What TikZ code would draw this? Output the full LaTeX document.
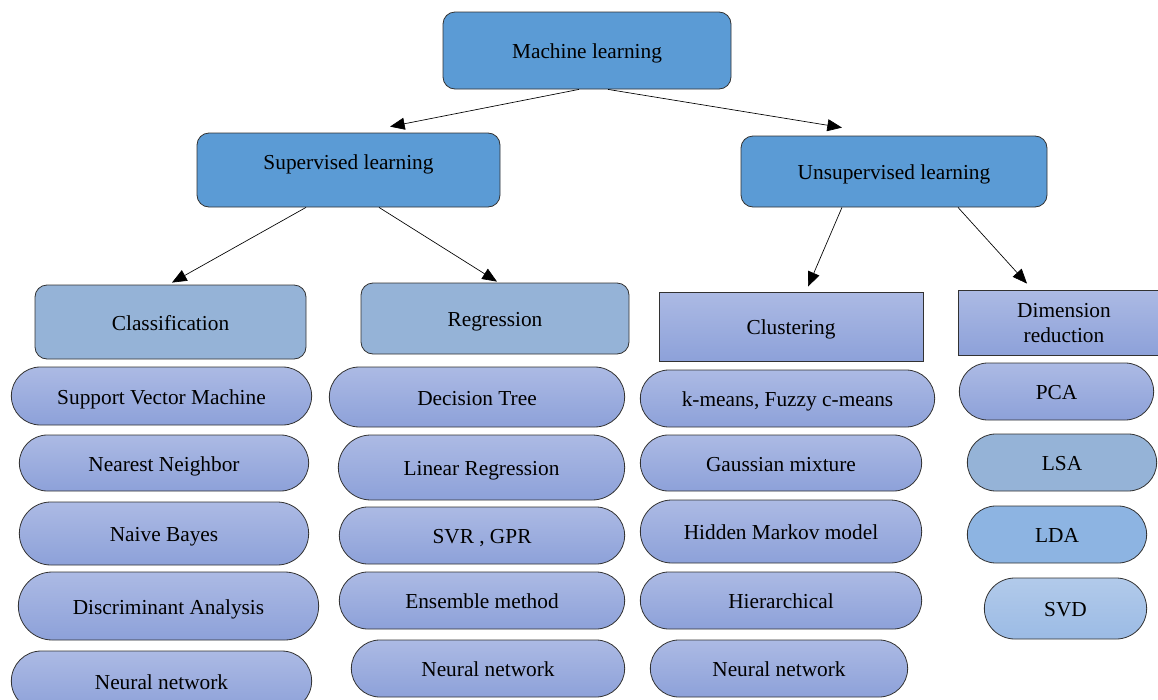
\documentclass[tikz,border=0pt]{standalone}
\usepackage{fontspec}
\setmainfont{Liberation Serif}
\usetikzlibrary{shapes.misc,arrows.meta,calc}
\definecolor{topblue}{RGB}{91,155,213}
\definecolor{midblue}{RGB}{149,179,215}
\definecolor{lavtop}{RGB}{172,186,228}
\definecolor{lavbot}{RGB}{141,161,217}
\definecolor{ldablue}{RGB}{141,180,226}
\definecolor{svdtop}{RGB}{178,202,234}
\definecolor{svdbot}{RGB}{155,187,229}
\definecolor{edge}{RGB}{50,50,50}
\tikzset{
  sz/.style 2 args={minimum width={#1*0.75pt}, minimum height={#2*0.75pt}},
  base/.style={draw=edge, line width=0.6pt, inner sep=1pt, align=center,
    font=\fontsize{16}{19}\selectfont, text height=15.5pt, text depth=3.5pt},
  mainbox/.style={base, rectangle, rounded corners=9pt, fill=topblue},
  catbox/.style={base, rectangle, rounded corners=9pt, fill=midblue},
  gradbox/.style={base, rectangle, top color=lavtop, bottom color=lavbot},
  leaf/.style={base, rounded rectangle, top color=lavtop, bottom color=lavbot},
  arr/.style={line width=0.5pt, -{Triangle[length=11pt,width=9pt]}}
}
\begin{document}
\begin{tikzpicture}[x=0.75pt,y=-0.75pt]
\useasboundingbox (0,0) rectangle (1158,700);
% top levels
\node[mainbox, sz={288}{77}] (ml) at (587,50.5) {Machine learning};
\node[mainbox, sz={303}{74}, text depth=16pt] (sup) at (348.5,170) {Supervised learning};
\node[mainbox, sz={306}{71}] (unsup) at (894,171.5) {Unsupervised learning};
% categories
\node[catbox, sz={271}{74}] (class) at (170.5,322) {Classification};
\node[catbox, sz={268}{71}] (regr) at (495,318.5) {Regression};
\node[gradbox, sz={264}{69}] (clust) at (791,326.5) {Clustering};
\node[gradbox, sz={212}{65}, text height=34pt] (dim) at (1064,322.5) {Dimension\\reduction};
% column 1
\node[leaf, sz={303}{58}] (svm) at (161.5,396) {Support Vector Machine};
\node[leaf, sz={292}{56}] (nn) at (164,463) {Nearest Neighbor};
\node[leaf, sz={292}{63}] (nb) at (164,533.5) {Naive Bayes};
\node[leaf, sz={303}{68}] (da) at (168.5,606) {Discriminant Analysis};
\node[leaf, sz={303}{60}] (neuA) at (161.5,681) {Neural network};
% column 2
\node[leaf, sz={298}{60}] (dt) at (477,397) {Decision Tree};
\node[leaf, sz={289}{65}] (lr) at (481.5,467.5) {Linear Regression};
\node[leaf, sz={288}{57}] (svr) at (482,535.5) {SVR , GPR};
\node[leaf, sz={288}{57}] (ens) at (482,600.5) {Ensemble method};
\node[leaf, sz={276}{57}] (neuB) at (488,668.5) {Neural network};
% column 3
\node[leaf, sz={297}{57}] (km) at (787.5,398.5) {k-means, Fuzzy c-means};
\node[leaf, sz={284}{56}] (gm) at (781,463) {Gaussian mixture};
\node[leaf, sz={284}{63}] (hmm) at (781,531.5) {Hidden Markov model};
\node[leaf, sz={284}{57}] (hier) at (781,600.5) {Hierarchical};
\node[leaf, sz={260}{57}] (neuC) at (779,668.5) {Neural network};
% column 4
\node[leaf, sz={197}{57}] (pca) at (1056.5,391.5) {PCA};
\node[leaf, sz={192}{57}, top color=midblue, bottom color=midblue] (lsa) at (1062,462.5) {LSA};
\node[leaf, sz={182}{57}, top color=ldablue, bottom color=ldablue] (lda) at (1057,534.5) {LDA};
\node[leaf, sz={165}{61}, top color=svdtop, bottom color=svdbot] (svd) at (1065.5,608.5) {SVD};
% connectors
\draw[arr] ($(ml.south)+(-8,0)$) -- ($(sup.north)+(41.5,-6)$);
\draw[arr] ($(ml.south)+(21,0)$) -- ($(unsup.north)+(-52,-8)$);
\draw[arr] ($(sup.south)+(-42.5,0)$) -- ($(class.north)+(1.5,-2)$);
\draw[arr] ($(sup.south)+(30.5,0)$) -- ($(regr.north)+(2,-1)$);
\draw[arr] ($(unsup.south)+(-52,0)$) -- ($(clust.north)+(17,-5)$);
\draw[arr] ($(unsup.south)+(64,0)$) -- ($(dim.north)+(-37,-6)$);
\end{tikzpicture}
\end{document}
